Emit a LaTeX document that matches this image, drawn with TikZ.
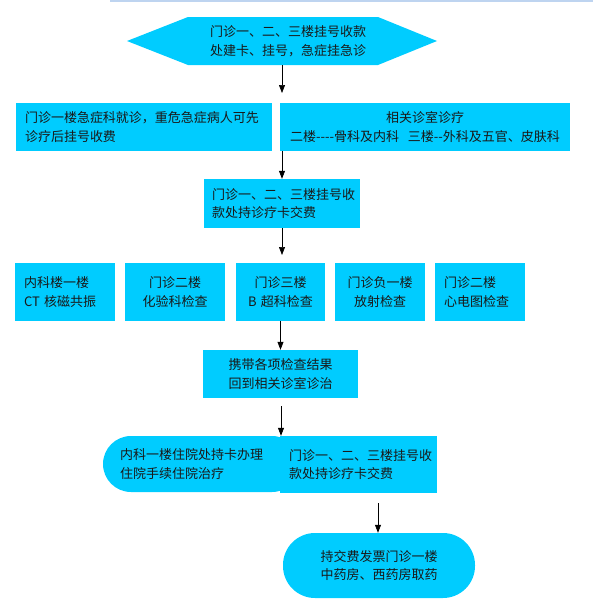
\documentclass[tikz,border=0pt]{standalone}
\usepackage{fontspec}
\setmainfont[Ligatures=NoCommon]{Noto Sans CJK SC}
\usetikzlibrary{arrows.meta,calc}
\definecolor{boxcyan}{RGB}{0,204,255}
\definecolor{topline}{RGB}{190,212,240}
\definecolor{txtcol}{RGB}{25,25,25}
\begin{document}
\begin{tikzpicture}[x=1pt,y=-1pt,
  box/.style={fill=boxcyan, draw=none, inner ysep=0pt, text=txtcol,
    font=\fontsize{13pt}{18.5pt}\selectfont, anchor=center},
  frame/.style={draw=none, fill=none, inner sep=0pt},
  arr/.style={-{Triangle[length=8pt,width=6pt]}, black, line width=0.7pt},
  plain/.style={black, line width=0.7pt}]
\useasboundingbox (0,0) rectangle (593,608);
\draw[topline, line width=1.5pt] (110,0.8) -- (593,0.8);

% hexagon
\fill[boxcyan] (127,41) -- (188,17) -- (378,17) -- (437,41) -- (378,65) -- (188,65) -- cycle;
\node[frame, minimum width=310, minimum height=48] (hex) at (282,41) {};
\node[box, fill=none, align=left] (hextxt) at (288,41) {门诊一、二、三楼挂号收款\\处建卡、挂号，急症挂急诊};

% second row
\node[box, minimum width=256, minimum height=48, text width=244, inner xsep=6, align=left] (L1) at (144,127)
  {\hspace*{3pt}门诊一楼急症科就诊，重危急症病人可先\\\hspace*{3pt}诊疗后挂号收费};
\node[box, minimum width=290, minimum height=48, text width=284, inner xsep=3, align=center] (R1) at (425,127)
  {相关诊室诊疗\\二楼-{}-{}-{}-骨科及内科~~三楼-{}-外科及五官、皮肤科};

% payment box
\node[box, minimum width=156, minimum height=49, text width=146, inner xsep=5, align=left] (B3) at (282,203.5)
  {\hspace*{3pt}门诊一、二、三楼挂号收\\\hspace*{3pt}款处持诊疗卡交费};

% exams row
\node[box, minimum width=100, minimum height=58, text width=82, inner xsep=9, align=left] (E1) at (65,292)
  {内科楼一楼\\CT 核磁共振};
\node[box, minimum width=100, minimum height=58, text width=84, inner xsep=8, align=center] (E2) at (175,292)
  {门诊二楼\\化验科检查};
\node[box, minimum width=89, minimum height=58, text width=79, inner xsep=5, align=center] (E3) at (280.5,292)
  {门诊三楼\\B 超科检查};
\node[box, minimum width=90, minimum height=58, text width=80, inner xsep=5, align=center] (E4) at (380,292)
  {门诊负一楼\\放射检查};
\node[box, minimum width=90, minimum height=58, text width=72, inner xsep=9, align=left] (E5) at (480,292)
  {门诊二楼\\心电图检查};

% results box
\node[box, minimum width=155, minimum height=48, text width=140, inner xsep=7, align=center] (B7) at (280.5,374)
  {携带各项检查结果\\回到相关诊室诊治};

% hospitalisation (stadium) and payment
\node[box, rounded corners=28pt, minimum width=197, minimum height=56, text width=163, inner xsep=17, align=left] (S1) at (201.5,464)
  {内科一楼住院处持卡办理\\住院手续住院治疗};
\node[box, minimum width=157, minimum height=57, text width=147, inner xsep=5, align=left] (R8) at (358.5,464.5)
  {\hspace*{4pt}门诊一、二、三楼挂号收\\\hspace*{4pt}款处持诊疗卡交费};

% pharmacy stadium
\node[box, rounded corners=32pt, minimum width=192, minimum height=65, text width=170, inner xsep=11, align=center] (S2) at (379,565.5)
  {持交费发票门诊一楼\\中药房、西药房取药};

% connectors
\coordinate (a1) at (282,93);
\draw[arr] (hex.south) -- (a1);
\draw[arr] (B3.north |- R1.south) -- (B3.north);
\coordinate (a3) at (282,255);
\draw[arr] (B3.south) -- (a3);
\draw[arr] (E3.south) -- (B7.north);
\coordinate (a5) at (281,406);
\draw[arr] (a5) -- (a5 |- R8.north);
\coordinate (a6) at (378,503);
\draw[arr] (a6) -- (a6 |- S2.north);
\end{tikzpicture}
\end{document}
